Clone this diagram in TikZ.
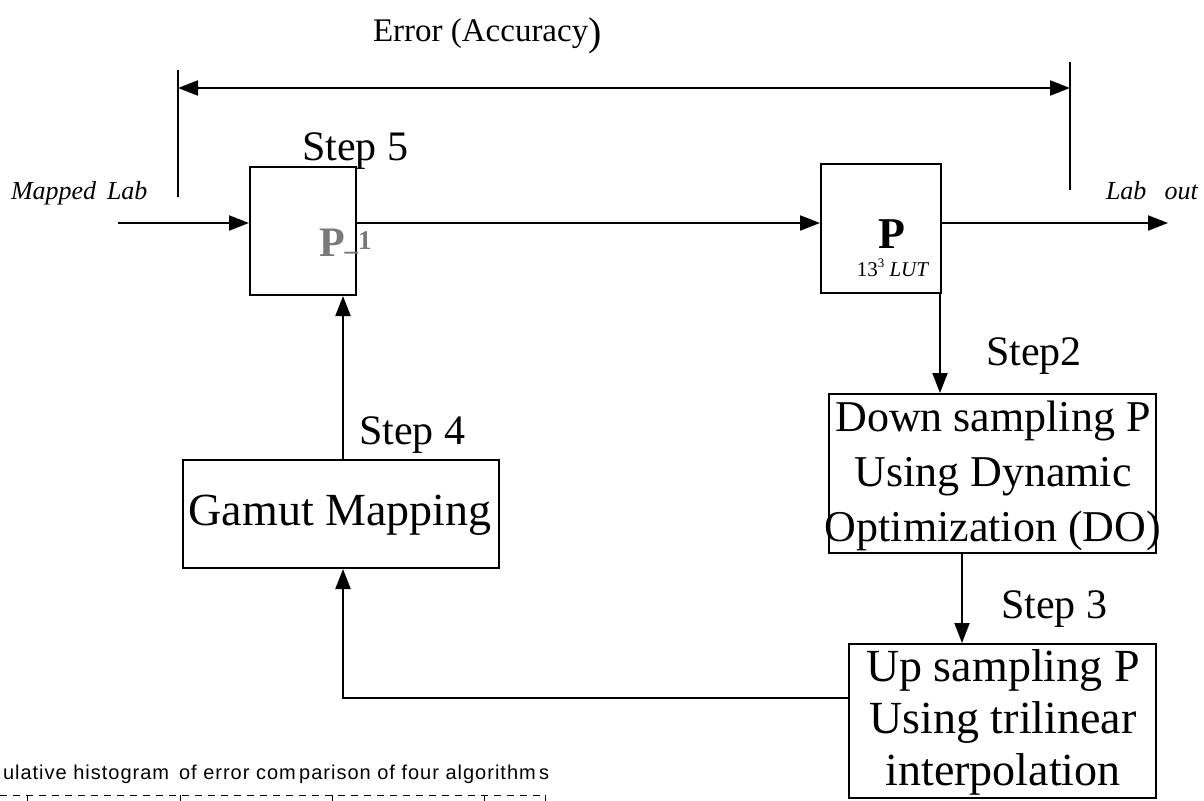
\documentclass[tikz,border=0pt]{standalone}
\usepackage{fontspec}
\setmainfont{Liberation Serif}
\newfontfamily\arialf{Liberation Sans}
\usetikzlibrary{arrows.meta}
\begin{document}
\begin{tikzpicture}[x=1pt,y=-1pt,
  line width=2pt,
  arr/.style={-{Triangle[length=20pt,width=15pt]}},
  darr/.style={{Triangle[length=20pt,width=15pt]}-{Triangle[length=20pt,width=15pt]}},
  blockbox/.style={draw,line width=2pt,inner sep=0pt,anchor=north west},
  big/.style={font=\fontsize{42}{48}\selectfont},
  lab/.style={font=\fontsize{26}{30}\selectfont\itshape},
]
\useasboundingbox (0,0) rectangle (1204,800);
% boxes
\node[blockbox,minimum width=106pt,minimum height=128pt] (pinv) at (249,166) {};
\node[blockbox,minimum width=120pt,minimum height=129pt] (pbox) at (820,163) {};
\node[blockbox,minimum width=327pt,minimum height=159pt] (down) at (828,393) {};
\node[blockbox,minimum width=307pt,minimum height=154pt] (up) at (848,643) {};
\node[blockbox,minimum width=316pt,minimum height=108pt] (gamut) at (182,459) {};
% texts in boxes
\node[font=\fontsize{42}{46}\selectfont\bfseries,text=gray!95!black,anchor=base west,inner sep=0pt] (ptxt) at (318,256) {P\raisebox{7pt}{\fontsize{27}{30}\selectfont\raisebox{-10pt}{–}1}};
\node[font=\fontsize{44}{46}\selectfont\bfseries,anchor=base,inner sep=0pt] (pbig) at (892,248) {P};
\node[font=\fontsize{21}{24}\selectfont,anchor=base,inner sep=0pt] (lut) at (893,276) {13\raisebox{9pt}{\fontsize{13}{15}\selectfont 3} \textit{LUT}};
\node[font=\fontsize{44}{55}\selectfont,align=center,inner sep=0pt] (downtxt) at (993,476) {Down sampling P\\Using Dynamic\\Optimization (DO)};
\node[font=\fontsize{46}{52}\selectfont,align=center,inner sep=0pt] (uptxt) at (1003,722) {Up sampling P\\Using trilinear\\interpolation};
\node[font=\fontsize{46}{52}\selectfont,inner sep=0pt] (gamuttxt) at (340,515) {Gamut Mapping};
% step labels
\node[big,anchor=base west,inner sep=0pt] (s5) at (301,160) {Step 5};
\node[big,anchor=base west,inner sep=0pt] (s2) at (985,365) {Step2};
\node[big,anchor=base west,inner sep=0pt] (s3) at (1000,618) {Step 3};
\node[big,anchor=base west,inner sep=0pt] (s4) at (358,444) {Step 4};
% top
\node[font=\fontsize{33}{38}\selectfont,anchor=base west,inner sep=0pt] (err) at (372,42) {Error (Accuracy\raisebox{-3pt}{\fontsize{40}{44}\selectfont)}};
\coordinate (vl1) at (178,70);
\coordinate (vl2) at (178,197);
\coordinate (vr1) at (1070,62);
\coordinate (vr2) at (1070,190);
\draw (vl1) -- (vl2);
\draw (vr1) -- (vr2);
\draw[darr] (vl1 |- 0,88) -- (vr1 |- 0,88);
% io
\node[lab,anchor=base west,inner sep=0pt] (mlab) at (10,199) {Mapped\, Lab};
\node[lab,anchor=base west,inner sep=0pt] (lout) at (1105,199) {Lab\;\, out};
\coordinate (inL) at (118,223);
\coordinate (outR) at (1168,223);
\draw[arr] (inL) -- (inL -| pinv.west);
\draw[arr] (pinv.east |- inL) -- (pbox.west |- inL);
\draw[arr] (pbox.east |- inL) -- (outR);
% vertical flow
\coordinate (c2) at (940,0);
\draw[arr] (c2 |- pbox.south) -- (c2 |- down.north);
\coordinate (c3) at (962,0);
\draw[arr] (c3 |- down.south) -- (c3 |- up.north);
\coordinate (c4) at (343,698);
\draw[arr] (up.west |- c4) -- (c4) -- (c4 |- gamut.south);
\draw[arr] (c4 |- gamut.north) -- (c4 |- pinv.south);
% bottom-left fragment
\node[font=\arialf\fontsize{20}{24}\selectfont,anchor=base west,inner sep=0pt] (hist) at (2,779) {\addfontfeature{LetterSpace=5}ulative histogram\, of error com\,parison of four algorithm\,s};
\coordinate (d1) at (0,795);
\coordinate (d2) at (545,795);
\draw[line width=1pt,dash pattern=on 7pt off 6pt] (d1) -- (d2);
\foreach \tx in {27,180,332,484,545} \draw[line width=1pt] (\tx,795) -- (\tx,801);
\end{tikzpicture}
\end{document}
